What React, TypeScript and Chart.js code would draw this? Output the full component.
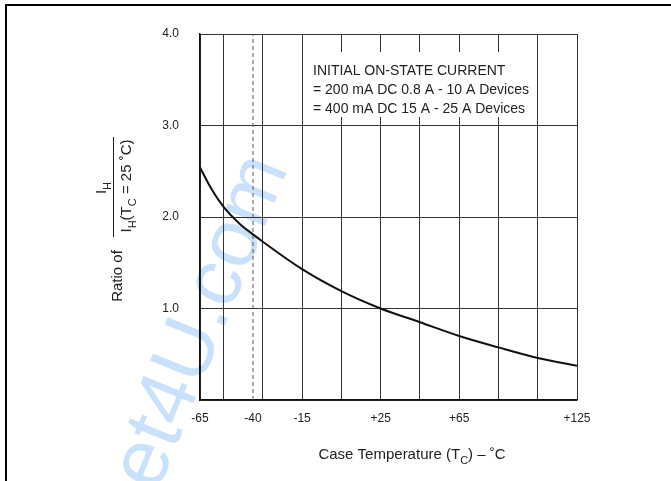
import React, { useEffect, useRef } from "react";
import { Chart, registerables } from "chart.js";

Chart.register(...registerables);

// ---- data ----
const temps = [-67, -61, -55, -47, -40, -35, -15, 5, 25, 45, 65, 85, 105, 125];
const ratios = [2.54, 2.3, 2.11, 1.93, 1.81, 1.73, 1.43, 1.19, 1.0, 0.85, 0.7, 0.575, 0.46, 0.375];
const dashedTemp = -40;
const xTickValues = [-67, -55, -40, -35, -15, 5, 25, 45, 65, 85, 105, 125];
const xTickLabels = ["-65", "", "-40", "", "-15", "", "+25", "", "+65", "", "", "+125"];
const yTickValues = [0, 1, 2, 3, 4];
const yTickLabels = ["", "1.0", "2.0", "3.0", "4.0"];
const noteLines = [
  "INITIAL ON-STATE CURRENT",
  "= 200 mA DC 0.8 A - 10 A Devices",
  "= 400 mA DC 15 A - 25 A Devices",
];
const watermark = "et4U.com";

const FONT = "'Liberation Sans', Arial, Helvetica, sans-serif";

type Part = { t: string; sub?: boolean };

function drawRich(ctx: CanvasRenderingContext2D, parts: Part[], x: number, y: number, size: number, align: "center" | "left") {
  const subSize = Math.round(size * 0.72);
  let total = 0;
  const widths = parts.map((p) => {
    ctx.font = `${p.sub ? subSize : size}px ${FONT}`;
    const w = ctx.measureText(p.t).width;
    total += w;
    return w;
  });
  let cx = align === "center" ? x - total / 2 : x;
  ctx.textAlign = "left";
  ctx.textBaseline = "alphabetic";
  parts.forEach((p, i) => {
    ctx.font = `${p.sub ? subSize : size}px ${FONT}`;
    ctx.fillText(p.t, cx, p.sub ? y + size * 0.3 : y);
    cx += widths[i];
  });
}

const decor = {
  id: "decor",
  beforeDraw(chart: any) {
    const ctx: CanvasRenderingContext2D = chart.ctx;
    ctx.save();
    ctx.fillStyle = "#fff";
    ctx.fillRect(0, 0, chart.width, chart.height);
    // watermark
    ctx.translate(202, 322);
    ctx.rotate((-68 * Math.PI) / 180);
    ctx.font = `82px ${FONT}`;
    ctx.fillStyle = "#c9e1fb";
    ctx.textAlign = "center";
    ctx.textBaseline = "middle";
    ctx.fillText(watermark, 0, 0);
    ctx.restore();
  },
  afterDraw(chart: any) {
    const ctx: CanvasRenderingContext2D = chart.ctx;
    ctx.save();
    // outer frame
    ctx.fillStyle = "#000";
    ctx.fillRect(5, 4, 666, 2);
    ctx.fillRect(5, 4, 2, 477);

    // annotation box
    ctx.fillStyle = "#fff";
    ctx.fillRect(308, 52, 226, 65);
    ctx.fillStyle = "#222";
    ctx.font = `14px ${FONT}`;
    ctx.textAlign = "left";
    ctx.textBaseline = "alphabetic";
    noteLines.forEach((l, i) => ctx.fillText(l, 313, 75 + i * 19));

    // x title
    drawRich(ctx, [{ t: "Case Temperature (T" }, { t: "C", sub: true }, { t: ") \u2013 \u02DAC" }], 412, 459, 15, "center");

    // y title
    ctx.save();
    ctx.translate(122, 276);
    ctx.rotate(-Math.PI / 2);
    drawRich(ctx, [{ t: "Ratio of" }], 0, 0, 15, "center");
    ctx.restore();

    ctx.save();
    ctx.translate(106, 188);
    ctx.rotate(-Math.PI / 2);
    drawRich(ctx, [{ t: "I" }, { t: "H", sub: true }], 0, 0, 15, "center");
    ctx.restore();

    ctx.strokeStyle = "#222";
    ctx.lineWidth = 1;
    ctx.beginPath();
    ctx.moveTo(113.5, 137);
    ctx.lineTo(113.5, 237);
    ctx.stroke();

    ctx.save();
    ctx.translate(131, 186);
    ctx.rotate(-Math.PI / 2);
    drawRich(
      ctx,
      [{ t: "I" }, { t: "H", sub: true }, { t: "(T" }, { t: "C", sub: true }, { t: " = 25 \u02DAC)" }],
      0,
      0,
      15,
      "center"
    );
    ctx.restore();

    ctx.restore();
  },
};

export default function App() {
  const ref = useRef<HTMLCanvasElement>(null);
  useEffect(() => {
    const canvas = ref.current!;
    const chart = new Chart(canvas, {
      type: "line",
      data: {
        datasets: [
          {
            data: temps.map((t, i) => ({ x: t, y: ratios[i] })),
            borderColor: "#111",
            borderWidth: 2,
            pointRadius: 0,
            cubicInterpolationMode: "monotone",
            fill: false,
            order: 0,
          },
          {
            data: [
              { x: dashedTemp, y: yTickValues[0] },
              { x: dashedTemp, y: yTickValues[yTickValues.length - 1] },
            ],
            borderColor: "#555",
            borderWidth: 1,
            borderDash: [4, 3],
            pointRadius: 0,
            tension: 0,
            fill: false,
            order: 1,
          },
        ],
      },
      options: {
        responsive: false,
        animation: false,
        devicePixelRatio: 1,
        layout: { padding: { left: 0, top: 34, right: 94, bottom: 0 } },
        plugins: { legend: { display: false }, tooltip: { enabled: false } },
        scales: {
          x: {
            type: "linear",
            min: xTickValues[0],
            max: xTickValues[xTickValues.length - 1],
            afterBuildTicks: (s: any) => {
              s.ticks = xTickValues.map((v) => ({ value: v }));
            },
            afterFit: (s: any) => {
              s.height = 81;
            },
            ticks: {
              autoSkip: false,
              maxRotation: 0,
              padding: 11,
              color: "#222",
              font: { size: 12, family: FONT },
              callback: (v: any) => {
                const i = xTickValues.indexOf(Number(v));
                return i >= 0 ? xTickLabels[i] : "";
              },
            },
            grid: {
              drawTicks: false,
              lineWidth: 1,
              color: (c: any) => (c.tick && c.tick.value === dashedTemp ? "rgba(0,0,0,0)" : "#333"),
            },
            border: { color: "#111", width: 1.5 },
          },
          y: {
            type: "linear",
            min: yTickValues[0],
            max: yTickValues[yTickValues.length - 1],
            afterBuildTicks: (s: any) => {
              s.ticks = yTickValues.map((v) => ({ value: v }));
            },
            afterFit: (s: any) => {
              s.width = 200;
            },
            ticks: {
              padding: 21,
              color: "#222",
              font: { size: 12, family: FONT },
              callback: (v: any) => {
                const i = yTickValues.indexOf(Number(v));
                return i >= 0 ? yTickLabels[i] : "";
              },
            },
            grid: { drawTicks: false, lineWidth: 1, color: "#333" },
            border: { color: "#111", width: 1.5 },
          },
        },
      },
      plugins: [decor],
    } as any);
    return () => chart.destroy();
  }, []);
  return (
    <div style={{ position: "fixed", left: 0, top: 0, width: 671, height: 481, background: "#fff" }}>
      <canvas ref={ref} width={671} height={481} style={{ display: "block" }} />
    </div>
  );
}
